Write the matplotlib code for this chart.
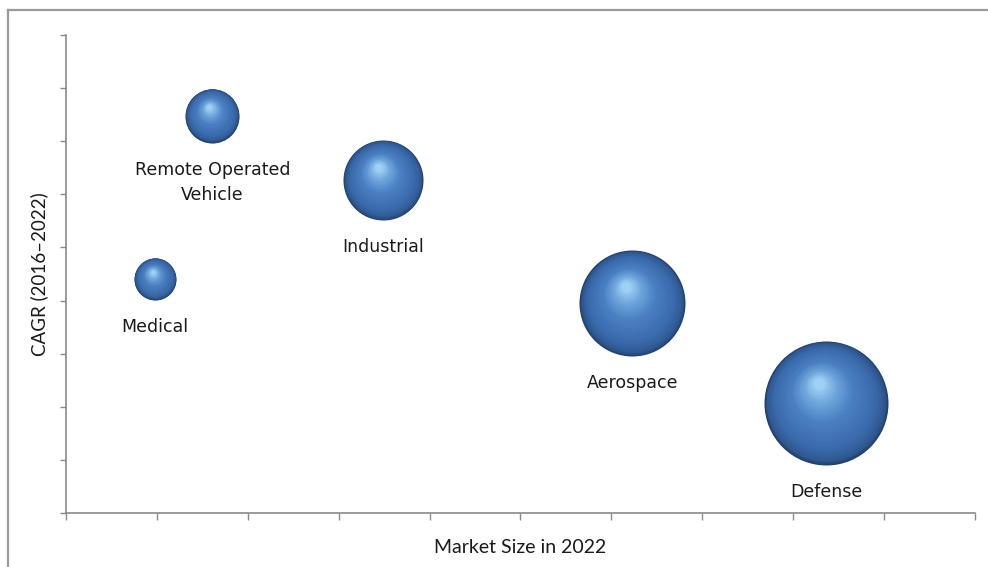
import matplotlib
matplotlib.use("Agg")
import matplotlib.pyplot as plt
from matplotlib.colors import LinearSegmentedColormap
from matplotlib.lines import Line2D
from matplotlib.transforms import offset_copy
import numpy as np

# segments, position on the market-size axis, CAGR, bubble size
segments = ["Remote Operated\nVehicle", "Medical", "Industrial", "Aerospace", "Defense"]
market_size = [1.61, 0.98, 3.49, 6.23, 8.36]
cagr = [7.48, 4.41, 6.27, 3.95, 2.07]
bubble_size = [27, 21, 40, 53, 62]

DPI = 100
fig = plt.figure(figsize=(9.88, 5.67), dpi=DPI)
ax = fig.add_axes([0.0668, 0.0952, 0.9200, 0.8431])

# sphere shading: thin dark rim -> mid blue body -> soft light highlight
shade = LinearSegmentedColormap.from_list(
    "sphere",
    [(0.0, "#223f6c"), (0.05, "#2f5891"), (0.2, "#3a6aab"),
     (0.55, "#4a80c2"), (0.8, "#6ea6dc"), (1.0, "#a0d0f4")])

n_layers = 70
for x, y, r in zip(market_size, cagr, bubble_size):
    r_pt = r * 72 / DPI
    for i in range(n_layers):
        t = i / (n_layers - 1)
        frac = 1 - 0.92 * t
        dx = -0.12 * r_pt * t
        dy = 0.32 * r_pt * t
        tr = offset_copy(ax.transData, fig=fig, x=dx, y=dy, units="points")
        ax.scatter([x], [y], s=(2 * r_pt * frac) ** 2, color=shade(t),
                   linewidths=0, transform=tr, zorder=3)

# labels below each bubble
for name, x, y, r in zip(segments, market_size, cagr, bubble_size):
    ax.annotate(name, (x, y), xytext=(0, -(r * 72 / DPI) - 13),
                textcoords="offset points", ha="center", va="top",
                fontsize=12.5, color="#1a1a1a", family="DejaVu Sans",
                linespacing=1.5)

ax.set_xlim(0, 10)
ax.set_ylim(0, 9)
ax.set_xticks(np.arange(0, 11, 1))
ax.set_yticks(np.arange(0, 10, 1))
ax.set_xticklabels([])
ax.set_yticklabels([])
for side in ["top", "right"]:
    ax.spines[side].set_visible(False)
for side in ["left", "bottom"]:
    ax.spines[side].set_color("#8a8a8a")
    ax.spines[side].set_linewidth(1.2)
ax.tick_params(axis="x", direction="out", length=5, width=1, color="#8a8a8a")
ax.tick_params(axis="y", direction="out", length=4, width=1, color="#8a8a8a")

ax.set_xlabel("Market Size in 2022", fontsize=14, family="Lato",
              color="#1a1a1a", labelpad=10)
ax.set_ylabel("CAGR (2016\u20132022)", fontsize=13.5, family="Lato",
              color="#1a1a1a", labelpad=5)

# outer frame, clipped by the image edge on the right and bottom
frame_kw = dict(color="#9a9a9a", linewidth=1.6, transform=fig.transFigure)
fig.add_artist(Line2D([8 / 988, 1.02], [1 - 10 / 567, 1 - 10 / 567], **frame_kw))
fig.add_artist(Line2D([8 / 988, 8 / 988], [1 - 10 / 567, -0.02], **frame_kw))

fig.savefig("out.png", dpi=DPI)
